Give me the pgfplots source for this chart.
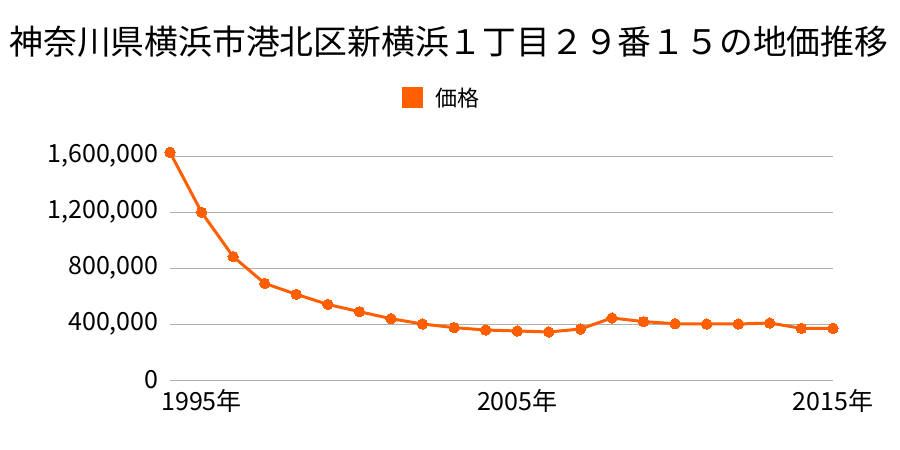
\documentclass[border=0pt]{standalone}
\usepackage{pgfplots}
\pgfplotsset{compat=1.18}
\usepackage{fontspec}
\setmainfont{Noto Sans CJK JP}
\definecolor{lineor}{HTML}{FF5F00}
\definecolor{gridg}{HTML}{B0B0B0}
\begin{document}
\begin{tikzpicture}[x=1pt,y=1pt]
\useasboundingbox (0,0) rectangle (900,450);
\node[font=\fontsize{33.8}{36}\selectfont, anchor=center] at (449,408) {神奈川県横浜市港北区新横浜１丁目２９番１５の地価推移};
\begin{axis}[
  at={(170pt,70pt)}, anchor=south west,
  scale only axis, width=663pt, height=224pt,
  xmin=1994, xmax=2015, ymin=0, ymax=1600000,
  axis line style={draw=none},
  ymajorgrids, grid style={gridg, line width=0.8pt},
  ytick={0,400000,800000,1200000,1600000},
  xtick={1995,2005,2015},
  xticklabels={1995年,2005年,2015年},
  scaled y ticks=false,
  /pgf/number format/assume math mode=true,
  yticklabel style={/pgf/number format/fixed, /pgf/number format/1000 sep={,}, font=\fontsize{25}{27}\selectfont, xshift=-8pt},
  xticklabel style={font=\fontsize{25}{27}\selectfont, yshift=-6pt},
  major tick length=0pt,
  clip=false,
  legend style={at={(0.408,1.263)}, anchor=center, draw=none, font=\fontsize{22}{24}\selectfont, inner sep=0pt, /tikz/every even column/.append style={column sep=0pt}},
  legend image code/.code={\fill[lineor] (0pt,-9pt) rectangle (18pt,9pt);},
  legend cell align=left,
  legend style={nodes={inner sep=0pt, text depth=0pt}},
]
\addplot[lineor, line width=3pt, mark=*, mark size=5.2pt, mark options={fill=lineor, draw=lineor, line width=0pt}] coordinates {
(1994,1626000) (1995,1198000) (1996,881000) (1997,690000) (1998,612000)
(1999,540000) (2000,488000) (2001,438000) (2002,400000) (2003,374000)
(2004,357000) (2005,350000) (2006,343000) (2007,364000) (2008,443000)
(2009,417000) (2010,402000) (2011,400000) (2012,400000) (2013,407000)
(2014,369000) (2015,369000)
};
\addlegendentry{\hspace{13pt}価格}
\end{axis}
\end{tikzpicture}
\end{document}
